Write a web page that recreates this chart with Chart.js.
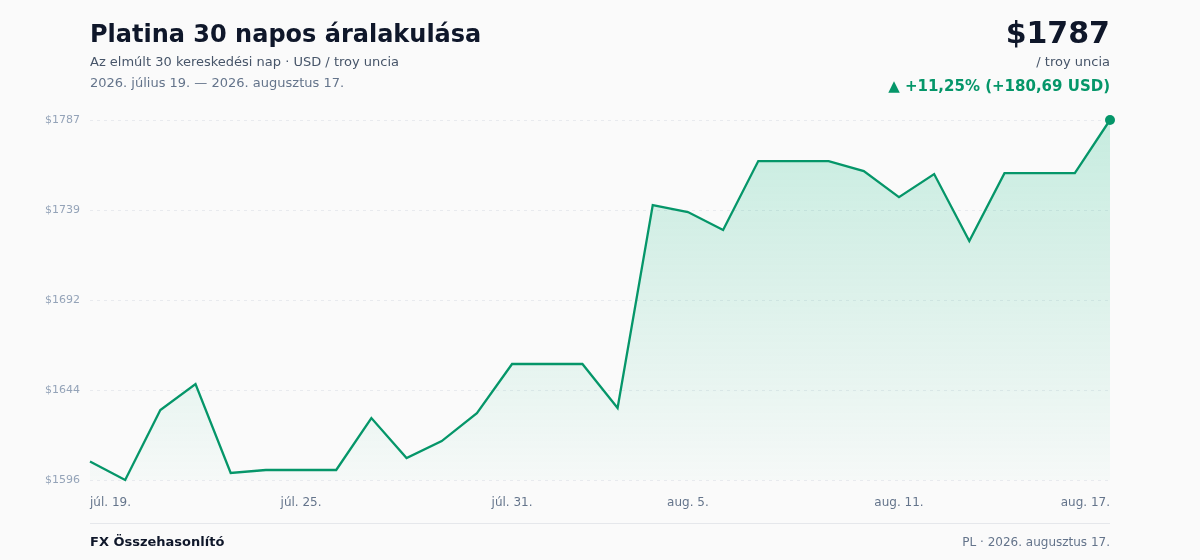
<!DOCTYPE html>
<html lang="hu">
<head>
<meta charset="utf-8">
<title>Platina 30 napos áralakulása</title>
<script src="https://cdn.jsdelivr.net/npm/chart.js@4/dist/chart.umd.min.js"></script>
<style>
  html, body { margin: 0; padding: 0; background: #fafafa; }
  body { width: 1200px; height: 560px; position: relative; overflow: hidden;
         font-family: "DejaVu Sans", "Noto Sans", sans-serif; }
  #chart { position: absolute; left: 0; top: 0; width: 1200px; height: 560px; }
  .t { position: absolute; white-space: nowrap; line-height: 1; }
  #title { left: 90px; top: 22px; font-size: 24px; font-weight: bold; color: #0f172a; }
  #sub { left: 90px; top: 55px; font-size: 13px; color: #475569; }
  #range { left: 90px; top: 76px; font-size: 13px; color: #64748b; }
  #price { right: 90px; top: 18px; font-size: 30px; font-weight: bold; color: #0f172a; }
  #unit { right: 90px; top: 55px; font-size: 13px; color: #475569; }
  #change { right: 90px; top: 79px; font-size: 15px; font-weight: bold; color: #059669; }
  #sep { position: absolute; left: 90px; top: 523px; width: 1020px; height: 1px; background: #e5e7eb; }
  #brand { left: 90px; top: 535px; font-size: 13px; font-weight: bold; color: #0f172a; }
  #stamp { right: 90px; top: 536px; font-size: 12px; color: #64748b; }
</style>
</head>
<body>
<canvas id="chart" width="1200" height="560"></canvas>
<div class="t" id="title">Platina 30 napos áralakulása</div>
<div class="t" id="sub">Az elmúlt 30 kereskedési nap · USD / troy uncia</div>
<div class="t" id="range">2026. július 19. — 2026. augusztus 17.</div>
<div class="t" id="price">$1787</div>
<div class="t" id="unit">/ troy uncia</div>
<div class="t" id="change">▲ +11,25% (+180,69 USD)</div>
<div id="sep"></div>
<div class="t" id="brand">FX Összehasonlító</div>
<div class="t" id="stamp">PL · 2026. augusztus 17.</div>

<script>
// Daily dates, Jul 19 – Aug 17 2026
const days = [
  "júl. 19.", "júl. 20.", "júl. 21.", "júl. 22.", "júl. 23.", "júl. 24.",
  "júl. 25.", "júl. 26.", "júl. 27.", "júl. 28.", "júl. 29.", "júl. 30.",
  "júl. 31.", "aug. 1.", "aug. 2.", "aug. 3.", "aug. 4.", "aug. 5.",
  "aug. 6.", "aug. 7.", "aug. 8.", "aug. 9.", "aug. 10.", "aug. 11.",
  "aug. 12.", "aug. 13.", "aug. 14.", "aug. 15.", "aug. 16.", "aug. 17."
];

// Platinum closing price, USD / troy ounce
const prices = [
  1606.13, 1596.3, 1633.3, 1647.1, 1600.0, 1601.6,
  1601.6, 1601.6, 1629.1, 1607.9, 1616.9, 1631.7,
  1657.7, 1657.7, 1657.7, 1634.4, 1741.8, 1738.1,
  1728.6, 1765.1, 1765.1, 1765.1, 1759.8, 1746.0,
  1758.2, 1722.8, 1758.7, 1758.7, 1758.7, 1786.82
];

// Dates shown under the x axis
const xTickLabels = ["júl. 19.", "júl. 25.", "júl. 31.", "aug. 5.", "aug. 11.", "aug. 17."];

const GREEN = "#059669";
const yMin = Math.min(...prices);
const yMax = Math.max(...prices);
const lastIndex = prices.length - 1;

// Draws the date labels below the plot: first one left-aligned, last one right-aligned
const dateLabels = {
  id: "dateLabels",
  afterDraw(chart) {
    const { ctx, scales: { x } } = chart;
    ctx.save();
    ctx.font = "12px 'DejaVu Sans', sans-serif";
    ctx.fillStyle = "#64748b";
    ctx.textBaseline = "alphabetic";
    xTickLabels.forEach((lbl, k) => {
      const idx = days.indexOf(lbl);
      const px = x.getPixelForValue(idx);
      ctx.textAlign = k === 0 ? "left" : (k === xTickLabels.length - 1 ? "right" : "center");
      ctx.fillText(lbl, px, 505.5);
    });
    ctx.restore();
  }
};

// Dashed horizontal grid lines at each y tick
const dashedGrid = {
  id: "dashedGrid",
  beforeDatasetsDraw(chart) {
    const { ctx, chartArea, scales: { y } } = chart;
    ctx.save();
    ctx.strokeStyle = "#e8eaee";
    ctx.lineWidth = 1;
    ctx.setLineDash([3, 4]);
    y.ticks.forEach((t) => {
      const py = Math.round(y.getPixelForValue(t.value)) + 0.5;
      ctx.beginPath();
      ctx.moveTo(chartArea.left, py);
      ctx.lineTo(chartArea.right, py);
      ctx.stroke();
    });
    ctx.restore();
  }
};

new Chart(document.getElementById("chart"), {
  type: "line",
  data: {
    labels: days,
    datasets: [{
      data: prices,
      borderColor: GREEN,
      borderWidth: 2.3,
      tension: 0,
      fill: "start",
      clip: false,
      backgroundColor(ctx) {
        const area = ctx.chart.chartArea;
        if (!area) return "rgba(16,185,129,0.1)";
        const g = ctx.chart.ctx.createLinearGradient(0, area.top, 0, area.bottom);
        g.addColorStop(0, "rgba(16,185,129,0.22)");
        g.addColorStop(1, "rgba(16,185,129,0.02)");
        return g;
      },
      pointRadius: (c) => (c.dataIndex === lastIndex ? 5 : 0),
      pointHoverRadius: (c) => (c.dataIndex === lastIndex ? 5 : 0),
      pointBackgroundColor: GREEN,
      pointBorderWidth: 0
    }]
  },
  options: {
    responsive: false,
    animation: false,
    devicePixelRatio: 1,
    layout: { padding: { left: 0, right: 90, top: 120, bottom: 80 } },
    plugins: { legend: { display: false }, tooltip: { enabled: false } },
    scales: {
      x: {
        display: false,
        offset: false
      },
      y: {
        min: yMin,
        max: yMax,
        afterFit(scale) { scale.width = 90; },
        border: { display: false },
        grid: { display: false, drawTicks: false },
        ticks: {
          count: 5,
          padding: 10,
          color: "#94a3b8",
          font: { family: "'DejaVu Sans', sans-serif", size: 11 },
          callback: (v) => "$" + Math.round(v)
        }
      }
    }
  },
  plugins: [dashedGrid, dateLabels]
});
</script>
</body>
</html>
